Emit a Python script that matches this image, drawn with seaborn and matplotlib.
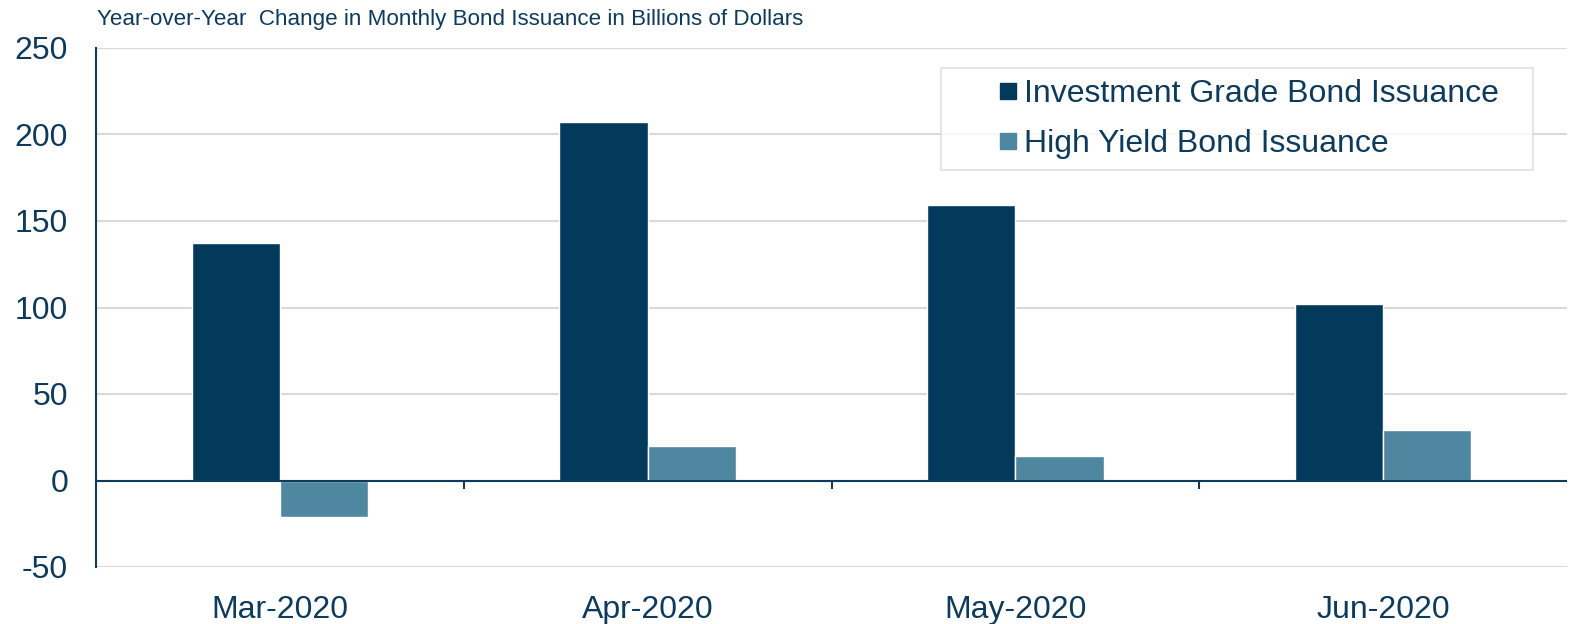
import matplotlib
matplotlib.use("Agg")
import matplotlib.pyplot as plt
import seaborn as sns
import pandas as pd
from matplotlib import font_manager
from matplotlib.lines import Line2D

months = ["Mar-2020", "Apr-2020", "May-2020", "Jun-2020"]
ig_values = [137, 207, 159, 102]
hy_values = [-21, 20, 14, 29]
series_names = ["Investment Grade Bond Issuance", "High Yield Bond Issuance"]
yticks = [-50, 0, 50, 100, 150, 200, 250]
title = "Year-over-Year  Change in Monthly Bond Issuance in Billions of Dollars"

df = pd.DataFrame({
    "month": months * 2,
    "value": ig_values + hy_values,
    "series": [series_names[0]] * 4 + [series_names[1]] * 4,
})

sns.set_theme(style="white")
names = {f.name for f in font_manager.fontManager.ttflist}
base = "Liberation Sans" if "Liberation Sans" in names else "DejaVu Sans"
plt.rcParams["font.family"] = [base, "DejaVu Sans"]

txt = "#0E3A5B"
ig_col = "#033A5C"
hy_col = "#4F87A1"
colors = [ig_col, hy_col]

fig = plt.figure(figsize=(15.75, 6.24), dpi=100)
ax = fig.add_axes([96/1575, 1-567/624, (1567-96)/1575, (567-48)/624])

sns.barplot(data=df, x="month", y="value", hue="series", order=months,
            hue_order=series_names, palette=colors, width=0.48,
            gap=0, saturation=1, ax=ax, legend=False)

ax.set_ylim(-50, 250)
ax.set_xlim(-0.5, 3.5)
ax.set_yticks(yticks)
ax.set_yticklabels([str(v) for v in yticks])
ax.yaxis.grid(True, color="#D9D9D9", linewidth=1.5)
ax.set_axisbelow(True)
ax.tick_params(axis="y", length=0, pad=20, labelsize=23, labelcolor=txt)
ax.tick_params(axis="x", length=0, pad=20, labelsize=23, labelcolor=txt)
ax.set_xlabel("")
ax.set_ylabel("")
for s in ["top", "right", "bottom"]:
    ax.spines[s].set_visible(False)
ax.spines["left"].set_color(txt)
ax.spines["left"].set_linewidth(1.5)
ax.axhline(0, color=txt, linewidth=1.5, zorder=3)
ax.vlines([0.5, 1.5, 2.5], -5, 0, color=txt, linewidth=1.5, zorder=3)

handles = [Line2D([], [], linestyle="none", marker="s", markersize=11,
                  markerfacecolor=c, markeredgecolor=c) for c in colors]
x0 = (941-96)/1471
y1 = (567-68)/519
y0 = (567-168)/519
w = (1533-941)/1471
leg = ax.legend(handles, series_names, loc="upper left", mode="expand",
                bbox_to_anchor=(x0, y0, w, y1 - y0),
                frameon=True, fancybox=False, fontsize=23, handlelength=3.5,
                handletextpad=-1.25, borderpad=0.35, labelspacing=0.62,
                borderaxespad=0)
leg.get_frame().set_edgecolor("#D9D9D9")
leg.get_frame().set_linewidth(1.2)
for t in leg.get_texts():
    t.set_color(txt)

fig.text(97/1575, 1-19/624, title, fontsize=16.1,
         color=txt, ha="left", va="center")

fig.savefig("out.png", dpi=100)
